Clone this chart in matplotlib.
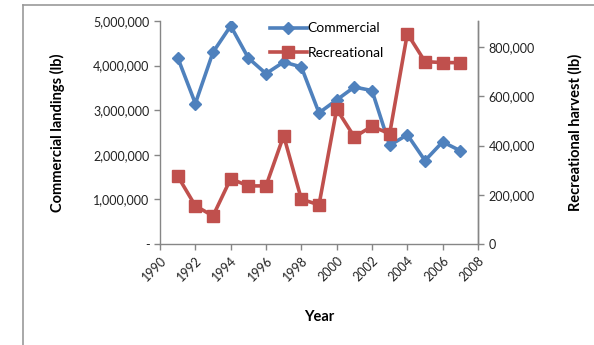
import numpy as np
import matplotlib.pyplot as plt
from matplotlib.lines import Line2D
from matplotlib.ticker import FuncFormatter

years = [1991, 1992, 1993, 1994, 1995, 1996, 1997, 1998, 1999,
         2000, 2001, 2002, 2003, 2004, 2005, 2006, 2007]
commercial = [4180000, 3150000, 4300000, 4890000, 4170000, 3820000, 4080000, 3970000, 2940000,
              3230000, 3520000, 3440000, 2210000, 2450000, 1870000, 2290000, 2090000]
recreational = [276000, 155000, 114000, 265000, 236000, 236000, 440000, 182000, 159000,
                548000, 435000, 478000, 448000, 855000, 741000, 737000, 737000]

year_ticks = list(range(1990, 2009, 2))
left_ticks = [0, 1000000, 2000000, 3000000, 4000000, 5000000]
right_ticks = [0, 200000, 400000, 600000, 800000]

blue = '#4F81BD'
red = '#C0504D'
grey = '#868686'

plt.rcParams['font.family'] = ['Lato', 'DejaVu Sans']

fig = plt.figure(figsize=(5.94, 3.45), dpi=100)
ax = fig.add_axes([0.2694, 0.2928, 0.8047 - 0.2694, 0.9391 - 0.2928])
ax2 = ax.twinx()

l1, = ax.plot(years, commercial, color=blue, lw=2.6, marker='D', ms=6.5, label='Commercial')
l2, = ax2.plot(years, recreational, color=red, lw=2.6, marker='s', ms=8, label='Recreational')

ax.set_xlim(1990, 2008)
ax.set_ylim(0, 5000000)
ax2.set_ylim(0, 906000)
ax.set_xticks(year_ticks)
ax.set_yticks(left_ticks)
ax2.set_yticks(right_ticks)

ax.yaxis.set_major_formatter(FuncFormatter(lambda v, p: '-' if v == 0 else '{:,.0f}'.format(v)))
ax2.yaxis.set_major_formatter(FuncFormatter(lambda v, p: '{:,.0f}'.format(v)))

for a in (ax, ax2):
    a.spines['top'].set_visible(False)
    for s in a.spines.values():
        s.set_color(grey)
        s.set_linewidth(1)
    a.tick_params(colors=grey, labelcolor='#222222', labelsize=9, length=4, width=1)
ax2.spines['left'].set_visible(False)
ax2.spines['bottom'].set_visible(False)

plt.setp(ax.get_xticklabels(), rotation=45, ha='right', rotation_mode='anchor')

ax.set_ylabel('Commercial landings (lb)', fontsize=10.5, fontweight='bold', labelpad=20)
ax2.set_ylabel('Recreational harvest (lb)', fontsize=10.5, fontweight='bold', labelpad=24)
ax.set_xlabel('Year', fontsize=10.5, fontweight='bold', labelpad=19)

ax2.legend([l1, l2], ['Commercial', 'Recreational'], loc='upper left',
           bbox_to_anchor=(0.305, 1.05), frameon=False, fontsize=10,
           handlelength=2.7, handletextpad=0.05, labelspacing=0.9)

# outer chart border (only top and left edges visible)
fig.add_artist(Line2D([23 / 594, 1], [1 - 5 / 345, 1 - 5 / 345], color='#999999', lw=1.2))
fig.add_artist(Line2D([23 / 594, 23 / 594], [0, 1 - 5 / 345], color='#999999', lw=1.2))

fig.savefig('out.png', dpi=100)
